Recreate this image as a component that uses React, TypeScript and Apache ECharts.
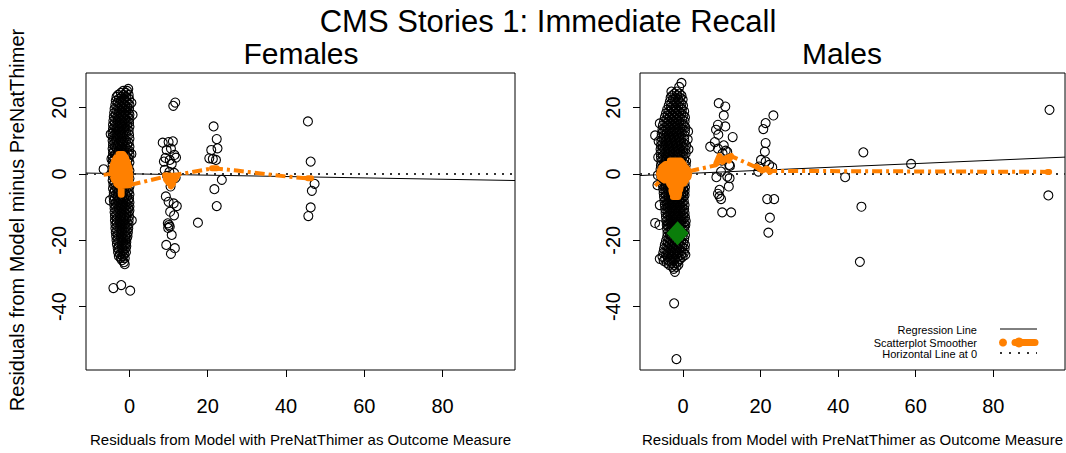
import React, { useEffect, useRef } from "react";
import * as echarts from "echarts";

const FONT = '"Liberation Sans", Arial, Helvetica, sans-serif';
const ORANGE = "#ff8000";
const GREEN = "#0a7d0a";

// Axis ranges and tick values shared by both panels
const X_RANGE = [-11.1, 98.5];
const Y_RANGE = [-59.1, 30.4];
const xTicks = [0, 20, 40, 60, 80];
const yTicks = [-40, -20, 0, 20];

// Females: dense cluster near x = -2, written as rows of [y, x values]
const femaleCoreRows: [number, number[]][] = [
  [25.6, [-0.3]], [25.0, [-1.6, -0.6]], [24.4, [-2.2, -0.9]], [23.8, [-2.9, -1.5, -0.2]],
  [23.2, [-3.3, -2.0, -0.8]], [22.6, [-2.7, -1.4, -0.1]], [22.0, [-3.5, -2.2, -0.9]],
  [21.4, [-3.0, -1.7, -0.4, 0.5]], [20.8, [-3.6, -2.4, -1.1, 0.0]], [20.2, [-3.1, -1.9, -0.6]],
  [19.6, [-3.8, -2.6, -1.3, -0.1]], [19.0, [-3.3, -2.0, -0.8]], [18.4, [-3.9, -2.7, -1.5, -0.2]],
  [17.8, [-3.5, -2.2, -1.0, 0.0, 0.8]], [17.2, [-4.0, -2.9, -1.6, -0.4]], [16.6, [-3.6, -2.4, -1.1, 0.0]],
  [16.0, [-4.1, -3.0, -1.8, -0.5]], [15.4, [-3.7, -2.5, -1.2, -0.1]], [14.8, [-4.2, -3.1, -1.9, -0.6]],
  [14.2, [-3.8, -2.6, -1.3, 0.0]], [13.6, [-4.2, -3.2, -2.0, -0.7]], [13.0, [-3.9, -2.7, -1.4, -0.2]],
  [12.4, [-4.3, -3.3, -2.1, -0.8]], [11.8, [-3.8, -2.8, -1.5, -0.1]], [11.2, [-4.3, -3.2, -2.0, -0.7]],
  [10.6, [-3.9, -2.6, -1.4, 0.0]], [10.0, [-4.3, -3.3, -2.1, -0.8]], [9.4, [-3.8, -2.7, -1.5, -0.2]],
  [8.8, [-4.2, -3.1, -1.9, -0.6]], [8.2, [-3.7, -2.5, -1.2, 0.0]], [7.6, [-4.3, -3.2, -2.0, -0.7]],
  [7.0, [-3.9, -2.7, -1.4, -0.1]], [6.4, [-4.2, -3.0, -1.8, -0.5]], [5.8, [-3.7, -2.5, -1.2, 0.0]],
  [5.2, [-4.3, -3.2, -2.0, -0.7]], [4.6, [-3.8, -2.6, -1.4, -0.2]], [4.0, [-4.2, -3.0, -1.8, -0.6]],
  [3.4, [-3.6, -2.4, -1.1, 0.0]], [2.8, [-4.3, -3.1, -1.9, -0.7]], [2.2, [-3.8, -2.7, -1.4, -0.3]],
  [1.6, [-4.1, -2.9, -1.7, -0.5]], [1.0, [-3.6, -2.3, -1.1, 0.0]], [0.4, [-4.3, -3.2, -2.0, -0.7]],
  [-0.2, [-3.9, -2.6, -1.4, -0.2]], [-0.8, [-4.2, -3.0, -1.8, -0.6]], [-1.4, [-3.7, -2.4, -1.2, 0.0]],
  [-2.0, [-4.3, -3.2, -2.0, -0.8]], [-2.6, [-3.8, -2.7, -1.5, -0.3]], [-3.2, [-4.1, -2.9, -1.7, -0.5]],
  [-3.8, [-3.6, -2.4, -1.1, 0.0]], [-4.4, [-4.2, -3.1, -1.9, -0.7]], [-5.0, [-3.7, -2.6, -1.4, -0.2]],
  [-5.6, [-4.0, -2.9, -1.7, -0.5]], [-6.2, [-3.5, -2.3, -1.0, 0.0]], [-6.8, [-4.1, -3.0, -1.8, -0.6]],
  [-7.4, [-3.7, -2.5, -1.3, -0.1]], [-8.0, [-4.0, -2.9, -1.6, -0.4]], [-8.6, [-3.5, -2.3, -1.0, 0.0]],
  [-9.2, [-3.9, -2.8, -1.6, -0.5]], [-9.8, [-3.4, -2.2, -1.0, 0.0]], [-10.4, [-3.8, -2.7, -1.5, -0.3]],
  [-11.0, [-3.3, -2.1, -0.9, 0.0]], [-11.6, [-3.8, -2.6, -1.4, -0.2]], [-12.2, [-3.3, -2.0, -0.8]],
  [-12.8, [-3.7, -2.5, -1.3, -0.1]], [-13.4, [-3.2, -2.0, -0.8]], [-14.0, [-3.7, -2.5, -1.3, -0.2]],
  [-14.6, [-3.2, -1.9, -0.7]], [-15.2, [-3.6, -2.4, -1.2, -0.2]], [-15.8, [-3.1, -1.9, -0.7]],
  [-16.4, [-3.6, -2.4, -1.2, -0.3]], [-17.0, [-3.1, -1.9, -0.7]], [-17.6, [-3.5, -2.3, -1.2, -0.4]],
  [-18.2, [-3.0, -1.8, -0.7]], [-18.8, [-3.4, -2.2, -1.1, -0.5]], [-19.4, [-2.9, -1.7, -0.7]],
  [-20.0, [-3.3, -2.1, -1.0]], [-20.6, [-2.8, -1.6, -0.8]], [-21.2, [-3.2, -2.0, -1.0]],
  [-21.8, [-2.7, -1.5, -0.8]], [-22.4, [-3.0, -1.9, -1.0]], [-23.0, [-2.6, -1.5]],
  [-23.6, [-2.9, -1.8, -0.9]], [-24.2, [-2.4, -1.3]], [-24.8, [-2.7, -1.7]], [-25.4, [-2.2, -1.2]],
  [-26.0, [-1.9]], [-26.6, [-1.4]], [-27.2, [-1.2]],
];

// Females: remaining points (other clusters and outliers)
const femaleOtherPoints: number[][] = [
  [-4.8, 12.0], [-5.0, -8.0], [0.5, 6.0], [0.6, -14.0], [-4.6, 4.5], [-6.6, 1.4],
  [11.7, 21.5], [11.2, 20.5], [8.5, 9.4], [10.0, 9.6], [11.1, 9.8], [9.5, 7.2], [10.6, 7.6],
  [11.5, 5.7], [9.2, 4.8], [10.3, 4.2], [11.9, 4.9], [8.8, 3.7], [10.8, 3.0], [9.0, 1.2],
  [10.2, 0.6], [11.4, 0.3], [9.6, -0.6], [11.8, -1.2], [10.5, -3.8], [9.3, -6.8], [10.0, -8.4],
  [11.3, -8.9], [12.1, -9.7], [10.4, -11.4], [9.8, -14.9], [10.1, -15.4], [10.3, -15.9],
  [10.8, -18.4], [9.4, -21.4], [11.6, -22.4], [10.6, -24.1], [9.9, -16.3], [11.4, -12.5],
  [21.5, 14.3], [22.3, 10.5], [22.5, 7.7], [20.9, 7.2], [20.4, 4.7], [21.3, 4.5], [22.1, 4.2],
  [23.6, -1.8], [21.7, -4.6], [22.3, -9.7], [17.5, -14.7],
  [45.6, 15.8], [46.3, 3.7], [47.3, -3.0], [46.6, -5.1], [46.3, -10.1], [45.7, -12.7],
  [-4.1, -34.4], [-2.1, -33.5], [0.2, -35.2],
];

// Males: dense cluster near x = -2
const maleCoreRows: [number, number[]][] = [
  [27.4, [-0.4]], [26.2, [-1.0]], [24.8, [-3.0, -1.6]], [24.2, [-2.2, -0.9]],
  [23.6, [-2.8, -1.5, -0.4]], [23.0, [-3.2, -2.0, -0.8]], [22.4, [-2.6, -1.3, -0.1]],
  [21.8, [-3.4, -2.2, -0.9]], [21.2, [-3.0, -1.7, -0.4]], [20.6, [-3.7, -2.5, -1.2, 0.0]],
  [20.0, [-3.2, -1.9, -0.6]], [19.4, [-4.1, -2.9, -1.6, -0.3]], [18.8, [-3.6, -2.3, -1.0, 0.3]],
  [18.2, [-4.4, -3.1, -1.8, -0.5]], [17.6, [-3.9, -2.6, -1.3, 0.1]], [17.0, [-4.7, -3.4, -2.1, -0.8, 0.5]],
  [16.4, [-4.1, -2.8, -1.5, -0.2]], [15.8, [-4.9, -3.6, -2.3, -1.0, 0.4]], [15.2, [-6.0, -4.3, -3.0, -1.7, -0.4]],
  [14.6, [-5.2, -3.8, -2.5, -1.2, 0.2]], [14.0, [-4.6, -3.3, -2.0, -0.7, 0.6]],
  [13.4, [-5.3, -4.0, -2.7, -1.4, -0.1]], [12.8, [-4.8, -3.5, -2.2, -0.9, 0.5, 1.3]],
  [12.2, [-5.5, -4.2, -2.9, -1.6, -0.3]], [11.6, [-7.2, -4.9, -3.6, -2.3, -1.0, 0.4]],
  [11.0, [-5.6, -4.3, -3.0, -1.7, -0.4]], [10.4, [-5.0, -3.7, -2.4, -1.1, 0.3, 1.2]],
  [9.8, [-6.3, -5.6, -4.4, -3.1, -1.8, -0.5]], [9.2, [-5.1, -3.8, -2.5, -1.2, 0.2]],
  [8.6, [-5.7, -4.5, -3.2, -1.9, -0.6, 0.8]], [8.0, [-5.2, -3.9, -2.6, -1.3, 0.1]],
  [7.4, [-5.8, -4.6, -3.3, -2.0, -0.7, 0.6, 1.4]], [6.8, [-5.3, -4.0, -2.7, -1.4, 0.0]],
  [6.2, [-5.8, -4.6, -3.3, -2.0, -0.7, 0.7]], [5.6, [-5.2, -3.9, -2.6, -1.3, 0.1]],
  [5.0, [-6.4, -5.7, -4.5, -3.2, -1.9, -0.6]], [4.4, [-5.1, -3.8, -2.5, -1.2, 0.3]],
  [3.8, [-5.6, -4.4, -3.1, -1.8, -0.5, 0.8]], [3.2, [-5.0, -3.7, -2.4, -1.1, 0.2]],
  [2.6, [-5.7, -4.5, -3.2, -1.9, -0.6, 0.7]], [2.0, [-5.2, -3.9, -2.6, -1.3, 0.1]],
  [1.4, [-5.8, -4.6, -3.3, -2.0, -0.7, 0.6]], [0.8, [-5.3, -4.0, -2.7, -1.4, 0.0]],
  [0.2, [-5.7, -4.5, -3.2, -1.9, -0.6, 0.7]], [-0.4, [-6.5, -5.1, -3.8, -2.5, -1.2, 0.2]],
  [-1.0, [-5.6, -4.4, -3.1, -1.8, -0.5, 0.6]], [-1.6, [-5.0, -3.7, -2.4, -1.1, 0.2]],
  [-2.2, [-5.4, -4.2, -2.9, -1.6, -0.3]], [-2.8, [-4.8, -3.5, -2.2, -0.9, 0.4]],
  [-3.4, [-6.6, -5.2, -4.0, -2.7, -1.4, -0.1]], [-4.0, [-4.6, -3.3, -2.0, -0.7, 0.5]],
  [-4.6, [-5.1, -3.9, -2.6, -1.3, 0.0]], [-5.2, [-4.5, -3.2, -1.9, -0.6, 0.4]],
  [-5.8, [-5.0, -3.8, -2.5, -1.2, 0.0]], [-6.4, [-4.4, -3.1, -1.8, -0.5, 0.4]],
  [-7.0, [-4.9, -3.7, -2.4, -1.1, 0.1]], [-7.6, [-4.3, -3.0, -1.7, -0.4]],
  [-8.2, [-4.8, -3.6, -2.3, -1.0, 0.2]], [-8.8, [-4.2, -2.9, -1.6, -0.3]],
  [-9.4, [-6.0, -4.7, -3.5, -2.2, -0.9, 0.4]], [-10.0, [-4.1, -2.8, -1.5, -0.2]],
  [-10.6, [-4.6, -3.4, -2.1, -0.8, 0.3]], [-11.2, [-4.0, -2.7, -1.4, -0.1]],
  [-11.8, [-4.5, -3.3, -2.0, -0.7, 0.4]], [-12.4, [-3.9, -2.6, -1.3, 0.0]],
  [-13.0, [-4.4, -3.2, -1.9, -0.6, 0.5]], [-13.6, [-3.8, -2.5, -1.2, 0.1]],
  [-14.2, [-4.3, -3.1, -1.8, -0.5, 0.7]], [-14.8, [-7.2, -3.7, -2.4, -1.1, 0.2]],
  [-15.4, [-6.1, -4.2, -3.0, -1.7, -0.4, 0.6]], [-16.0, [-3.6, -2.3, -1.0, 0.3]],
  [-16.6, [-4.1, -2.9, -1.6, -0.3]], [-17.2, [-3.5, -2.2, -0.9, 0.4]],
  [-17.8, [-4.0, -2.8, -1.5, -0.2]], [-18.4, [-3.4, -2.1, -0.8, 0.5]],
  [-19.0, [-4.1, -2.9, -1.6, -0.3]], [-19.6, [-3.6, -2.3, -1.0, 0.3]],
  [-20.2, [-4.4, -3.1, -1.8, -0.5]], [-20.8, [-3.9, -2.6, -1.3, 0.1]],
  [-21.4, [-4.7, -3.4, -2.1, -0.8, 0.5]], [-22.0, [-4.1, -2.8, -1.5, -0.2]],
  [-22.6, [-4.9, -3.6, -2.3, -1.0, 0.4]], [-23.2, [-4.3, -3.0, -1.7, -0.4]],
  [-23.8, [-5.1, -3.8, -2.5, -1.2, 0.2]], [-24.4, [-4.4, -3.1, -1.8, -0.5, 0.6]],
  [-25.0, [-5.3, -4.0, -2.7, -1.4, -0.1]], [-25.6, [-6.0, -4.6, -3.3, -2.0, -0.7]],
  [-26.2, [-5.0, -3.7, -2.4, -1.1]], [-26.8, [-4.2, -2.9, -1.6]], [-27.4, [-3.6, -2.3, -1.2]],
  [-28.0, [-2.8, -1.7]], [-28.6, [-2.4]], [-29.5, [-2.1]],
];

const maleOtherPoints: number[][] = [
  [9.2, 21.3], [10.9, 20.3], [10.5, 17.6], [9.0, 14.8], [8.5, 13.3], [9.1, 11.8], [10.9, 14.3],
  [12.8, 11.1], [7.0, 8.2], [9.0, 7.6], [10.5, 8.6], [11.0, 7.0], [10.2, 6.2], [11.4, 6.6],
  [11.9, 2.7], [9.8, 0.7], [8.6, -1.0], [11.4, -0.8], [12.0, -1.3], [11.8, -3.8], [9.4, -4.8],
  [9.0, -6.0], [9.4, -6.8], [9.8, -7.6], [10.1, -11.6], [12.4, -11.6], [12.1, 2.4], [10.0, 4.0],
  [8.2, 9.6],
  [23.3, 17.6], [21.3, 15.3], [20.7, 13.5], [21.3, 9.3], [21.1, 6.7], [20.1, 4.2], [21.3, 3.7],
  [22.2, 2.7], [23.0, 2.0], [19.4, 0.7], [19.6, 2.2], [21.7, -7.6], [23.5, -7.6], [22.4, -13.2],
  [22.0, -17.7],
  [46.5, 6.5], [41.8, -1.0], [58.8, 3.0], [46.0, -9.9], [45.6, -26.5], [94.5, 19.3], [94.2, -6.5],
  [-2.3, -39.0], [-1.7, -55.8],
];

const maleMeanPoint = [[-1.4, -17.9]];

// Fitted regression lines (end points across the panel)
const femaleRegression = [[-11.1, 0.25], [98.5, -2.0]];
const maleRegression = [[-11.1, -0.5], [98.5, 5.05]];
const zeroLine = [[-11.1, 0], [98.5, 0]];

// Scatterplot smoother: dashed stretches and the dense knots around clusters
const femaleSmoothDashed: number[][][] = [
  [[-6.6, -0.3], [-4.7, 0.0]],
  [[0.3, -3.3], [9.2, -0.8], [21.5, 1.7], [27.4, 1.0], [40.2, -0.8], [45.9, -1.4]],
];
const femaleSmoothKnots: number[][][] = [
  [[-2.8, 6.0], [-1.6, 6.0], [-0.9, 5.0], [-3.4, 5.0], [-3.9, 4.0], [-0.6, 4.0], [-0.3, 3.0],
   [-4.2, 3.0], [-4.4, 2.0], [0.0, 2.0], [0.1, 1.0], [-4.5, 1.0], [-4.4, 0.0], [0.2, 0.0],
   [0.2, -1.0], [-4.2, -1.0], [-3.9, -2.0], [0.2, -2.0], [0.2, -3.0], [-3.4, -3.0], [-2.8, -3.6],
   [-2.2, -3.6], [-2.2, -6.3], [-2.0, -6.3], [-2.0, -3.6], [0.0, -3.4]],
  [[9.1, -0.4], [12.2, -0.6], [11.6, -1.8], [9.3, -1.6], [10.0, -2.8], [11.2, -2.9], [10.6, -3.8]],
  [[21.1, 1.7], [22.3, 1.7]],
  [[45.6, -1.3], [46.4, -1.3]],
];

const maleSmoothDashed: number[][][] = [
  [[-7.2, -3.6], [-6.2, -2.4]],
  [[1.6, 0.8], [8.5, 2.6], [10.5, 4.6], [12.7, 5.2], [19.2, 1.8], [22.2, 0.9], [94.2, 0.6]],
];
const maleSmoothKnots: number[][][] = [
  [[-3.4, 4.0], [-0.6, 4.0], [0.2, 3.0], [-4.6, 3.0], [-5.6, 2.0], [0.8, 2.0], [1.4, 1.0],
   [-6.0, 1.0], [-6.2, 0.0], [1.6, 0.0], [1.4, -1.0], [-6.0, -1.0], [-4.8, -2.0], [0.8, -2.0],
   [0.2, -3.0], [-3.6, -3.0], [-3.0, -4.0], [-0.6, -4.0], [-0.8, -5.0], [-3.0, -5.0],
   [-2.8, -6.0], [-1.0, -6.0], [-1.2, -7.0], [-2.6, -7.0]],
  [[8.6, 3.2], [9.4, 5.4], [10.2, 3.6], [11.0, 4.8], [12.4, 5.4], [11.8, 4.0]],
  [[19.0, 2.2], [20.4, 1.0], [21.6, 1.6], [22.4, 0.6]],
  [[94.0, 0.6], [94.4, 0.6]],
];

const panelTitles = ["Females", "Males"];
const mainTitle = "CMS Stories 1: Immediate Recall";
const xTitle = "Residuals from Model with PreNatThimer as Outcome Measure";
const yTitle = "Residuals from Model minus PreNatThimer";
const legendItems = ["Regression Line", "Scatterplot Smoother", "Horizontal Line at 0"];

const flattenRows = (rows: [number, number[]][]) =>
  rows.flatMap(([y, xs]) => xs.map((x) => [x, y]));

function panelSeries(
  idx: number,
  points: number[][],
  reg: number[][],
  dashed: number[][][],
  knots: number[][][]
) {
  const axis = { xAxisIndex: idx, yAxisIndex: idx };
  const list: any[] = [
    {
      type: "scatter",
      ...axis,
      data: points,
      symbol: "circle",
      symbolSize: 9,
      large: false,
      itemStyle: { color: "rgba(0,0,0,0)", borderColor: "#000", borderWidth: 1.1, opacity: 1 },
      z: 2,
      silent: true,
    },
    {
      type: "line",
      ...axis,
      data: reg,
      showSymbol: false,
      symbol: "none",
      lineStyle: { color: "#000", width: 1 },
      z: 3,
      silent: true,
    },
    {
      type: "line",
      ...axis,
      data: zeroLine,
      showSymbol: false,
      symbol: "none",
      lineStyle: { color: "#333", width: 2, type: [2, 6] },
      z: 3,
      silent: true,
    },
  ];
  dashed.forEach((seg) =>
    list.push({
      type: "line",
      ...axis,
      data: seg,
      showSymbol: false,
      symbol: "none",
      lineStyle: { color: ORANGE, width: 4, type: [10, 4, 3, 4] },
      z: 4,
      silent: true,
    })
  );
  knots.forEach((seg) =>
    list.push({
      type: "line",
      ...axis,
      data: seg,
      showSymbol: false,
      symbol: "none",
      lineStyle: { color: ORANGE, width: 6, cap: "round", join: "round" },
      z: 4,
      silent: true,
    })
  );
  return list;
}

function makeAxes(gridIndex: number) {
  const x = {
    type: "value",
    gridIndex,
    min: X_RANGE[0],
    max: X_RANGE[1],
    splitLine: { show: false },
    axisLine: { show: false, onZero: false },
    axisTick: { show: true, length: 7, lineStyle: { color: "#000" }, customValues: xTicks },
    axisLabel: { fontFamily: FONT, fontSize: 20, color: "#000", margin: 26, customValues: xTicks },
    name: xTitle,
    nameLocation: "middle",
    nameGap: 62,
    nameTextStyle: { fontFamily: FONT, fontSize: 15, color: "#000" },
  };
  const y = {
    type: "value",
    gridIndex,
    min: Y_RANGE[0],
    max: Y_RANGE[1],
    splitLine: { show: false },
    axisLine: { show: false, onZero: false },
    axisTick: { show: true, length: 7, lineStyle: { color: "#000" }, customValues: yTicks },
    axisLabel: {
      fontFamily: FONT,
      fontSize: 20,
      color: "#000",
      margin: 17,
      rotate: 90,
      customValues: yTicks,
    },
  };
  return { x, y };
}

export default function App() {
  const ref = useRef<HTMLDivElement>(null);

  useEffect(() => {
    if (!ref.current) return;
    const chart = echarts.init(ref.current, undefined, { renderer: "svg" });
    const a0 = makeAxes(0);
    const a1 = makeAxes(1);

    const textStyle = (text: string, size: number, align = "center") => ({
      text,
      font: `${size}px ${FONT}`,
      fill: "#000",
      textAlign: align,
      textVerticalAlign: "middle",
      align,
      verticalAlign: "middle",
    });

    const legendX = 977;
    const legendY = [330, 342.5, 354];

    chart.setOption({
      animation: false,
      backgroundColor: "#fff",
      grid: [
        { left: 86, top: 73, width: 429, height: 297, show: true, borderColor: "#000", borderWidth: 1, backgroundColor: "transparent" },
        { left: 640, top: 73, width: 429, height: 297, show: true, borderColor: "#000", borderWidth: 1, backgroundColor: "transparent" },
      ],
      xAxis: [a0.x, a1.x],
      yAxis: [a0.y, a1.y],
      graphic: [
        { type: "text", x: 548, y: 21, style: textStyle(mainTitle, 31) },
        { type: "text", x: 301, y: 53, style: textStyle(panelTitles[0], 30) },
        { type: "text", x: 842, y: 53, style: textStyle(panelTitles[1], 30) },
        { type: "text", x: 17, y: 220, rotation: Math.PI / 2, style: textStyle(yTitle, 20) },
        ...legendItems.map((t, i) => ({
          type: "text",
          x: legendX,
          y: legendY[i],
          style: textStyle(t, 11, "right"),
        })),
        { type: "line", shape: { x1: 1000, y1: 329, x2: 1037, y2: 329 }, style: { stroke: "#000", lineWidth: 1 } },
        { type: "circle", shape: { cx: 1003, cy: 342.5, r: 4 }, style: { fill: ORANGE } },
        { type: "line", shape: { x1: 1015, y1: 342.5, x2: 1035, y2: 342.5 }, style: { stroke: ORANGE, lineWidth: 7, lineCap: "round" } },
        { type: "circle", shape: { cx: 1019, cy: 342.5, r: 5 }, style: { fill: ORANGE } },
        { type: "line", shape: { x1: 1000, y1: 353, x2: 1037, y2: 353 }, style: { stroke: "#333", lineWidth: 2, lineDash: [2, 7] } },
      ],
      series: [
        ...panelSeries(
          0,
          [...flattenRows(femaleCoreRows), ...femaleOtherPoints],
          femaleRegression,
          femaleSmoothDashed,
          femaleSmoothKnots
        ),
        ...panelSeries(
          1,
          [...flattenRows(maleCoreRows), ...maleOtherPoints],
          maleRegression,
          maleSmoothDashed,
          maleSmoothKnots
        ),
        {
          type: "scatter",
          xAxisIndex: 1,
          yAxisIndex: 1,
          data: maleMeanPoint,
          symbol: "diamond",
          symbolSize: [22, 24],
          itemStyle: { color: GREEN, opacity: 1 },
          z: 6,
          silent: true,
        },
      ],
    });
    return () => chart.dispose();
  }, []);

  return (
    <div
      ref={ref}
      style={{ position: "absolute", left: 0, top: 0, width: 1066, height: 453 }}
    />
  );
}
